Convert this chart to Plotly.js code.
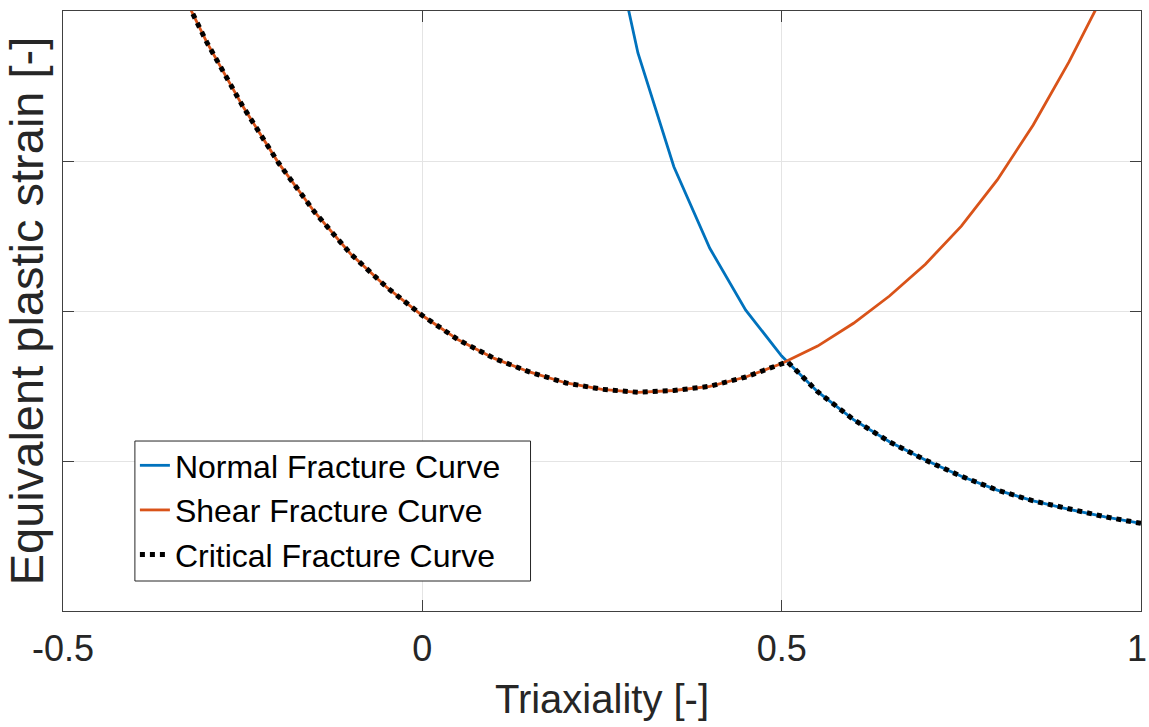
<!DOCTYPE html>
<html>
<head>
<meta charset="utf-8">
<script src="https://cdn.plot.ly/plotly-3.0.1.min.js"></script>
<style>
  html, body { margin: 0; padding: 0; background: #ffffff; }
  #chart { width: 1149px; height: 727px; }
</style>
</head>
<body>
<div id="chart"></div>
<script>
// Triaxiality samples and read-off strain values
const shearX = [-0.35, -0.3, -0.25, -0.2, -0.15, -0.1, -0.05, 0, 0.05, 0.1, 0.15, 0.2, 0.25, 0.3, 0.35, 0.4, 0.45, 0.5, 0.55, 0.6, 0.65, 0.7, 0.75, 0.8, 0.85, 0.9, 0.95, 1.0];
const shearY = [2.14, 1.896, 1.683, 1.493, 1.330, 1.191, 1.080, 0.985, 0.904, 0.842, 0.796, 0.760, 0.739, 0.729, 0.735, 0.749, 0.780, 0.825, 0.883, 0.959, 1.050, 1.156, 1.283, 1.437, 1.620, 1.831, 2.066, 2.33];

const normalX = [0.25, 0.3, 0.35, 0.4, 0.45, 0.5, 0.55, 0.6, 0.65, 0.7, 0.75, 0.8, 0.85, 0.9, 0.95, 1.0];
const normalY = [2.41, 1.86, 1.481, 1.209, 1.003, 0.85, 0.731, 0.638, 0.564, 0.503, 0.449, 0.403, 0.367, 0.339, 0.314, 0.292];

const criticalX = [-0.35, -0.3, -0.25, -0.2, -0.15, -0.1, -0.05, 0, 0.05, 0.1, 0.15, 0.2, 0.25, 0.3, 0.35, 0.4, 0.45, 0.5, 0.508, 0.55, 0.6, 0.65, 0.7, 0.75, 0.8, 0.85, 0.9, 0.95, 1.0];
const criticalY = [2.14, 1.896, 1.683, 1.493, 1.330, 1.191, 1.080, 0.985, 0.904, 0.842, 0.796, 0.760, 0.739, 0.729, 0.735, 0.749, 0.780, 0.825, 0.831, 0.731, 0.638, 0.564, 0.503, 0.449, 0.403, 0.367, 0.339, 0.314, 0.292];

const xTickVals = [-0.5, 0, 0.5, 1];
const xTickText = ['-0.5', '0', '0.5', ''];
const xLastTickText = '1';
const yTickVals = [0.5, 1.0, 1.5];

const traces = [
  { x: normalX, y: normalY, type: 'scatter', mode: 'lines', name: 'Normal Fracture Curve',
    line: { color: '#0072BD', width: 2.8 } },
  { x: shearX, y: shearY, type: 'scatter', mode: 'lines', name: 'Shear Fracture Curve',
    line: { color: '#D95319', width: 2.8 } },
  { x: criticalX, y: criticalY, type: 'scatter', mode: 'lines', name: 'Critical Fracture Curve',
    line: { color: '#000000', width: 5, dash: '5px,5px' } }
];

const axisCommon = {
  showline: true, mirror: 'ticks', linecolor: '#404040', linewidth: 1,
  ticks: 'inside', ticklen: 11, tickcolor: '#404040', tickwidth: 1,
  showgrid: true, gridcolor: '#e4e4e4', gridwidth: 1, zeroline: false
};

const layout = {
  width: 1149, height: 727,
  margin: { l: 63, r: 8, t: 11, b: 116 },
  paper_bgcolor: '#ffffff', plot_bgcolor: '#ffffff',
  font: { family: 'Liberation Sans, Arial, sans-serif', color: '#262626' },
  showlegend: true,
  legend: {
    x: 0.0667, y: 0.2883, xanchor: 'left', yanchor: 'top',
    bgcolor: 'rgba(0,0,0,0)', borderwidth: 0,
    font: { size: 32, color: '#000000', family: 'Liberation Sans, Arial, sans-serif' },
    tracegroupgap: 0
  },
  shapes: [
    { type: 'rect', xref: 'paper', yref: 'paper', layer: 'above',
      x0: 0.0667, x1: 0.4337, y0: 0.05, y1: 0.2833,
      fillcolor: '#ffffff', line: { color: '#262626', width: 1 } }
  ],
  annotations: [
    { x: xTickVals[3], xref: 'x', y: 0, yref: 'paper', yanchor: 'middle', xanchor: 'center',
      yshift: -37, xshift: -4, text: xLastTickText, showarrow: false,
      font: { size: 36, color: '#262626', family: 'Liberation Sans, Arial, sans-serif' } }
  ],
  xaxis: Object.assign({}, axisCommon, {
    range: [-0.5, 1], tickmode: 'array', tickvals: xTickVals, ticktext: xTickText,
    tickfont: { size: 36, color: '#262626' }, ticklabelstandoff: 6,
    title: { text: 'Triaxiality [-]', font: { size: 40, color: '#262626' }, standoff: 16 }
  }),
  yaxis: Object.assign({}, axisCommon, {
    range: [0, 2], tickmode: 'array', tickvals: yTickVals, showticklabels: false,
    title: { text: 'Equivalent plastic strain [-]', font: { size: 47, color: '#262626' }, standoff: 8 }
  })
};

Plotly.newPlot('chart', traces, layout, { displayModeBar: false, staticPlot: true });
</script>
</body>
</html>
